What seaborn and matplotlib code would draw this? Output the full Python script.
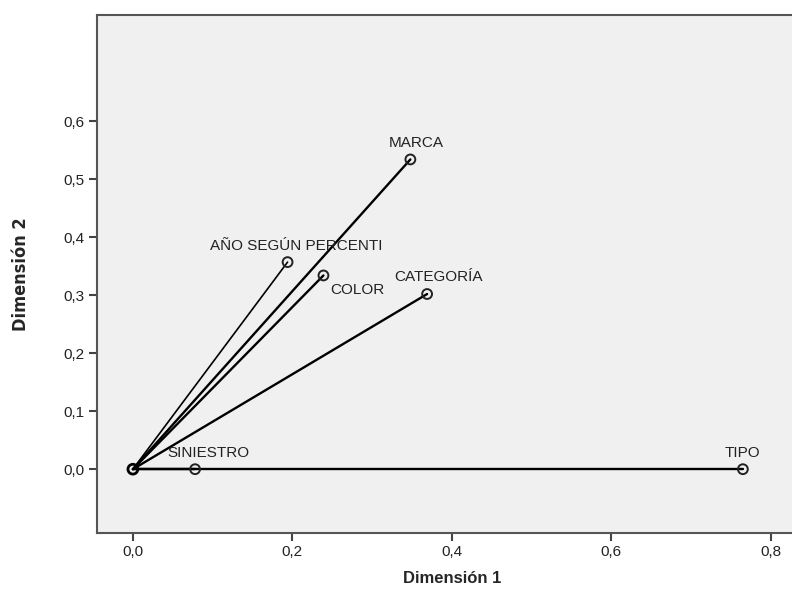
import numpy as np
import pandas as pd
import matplotlib
matplotlib.use("Agg")
import matplotlib.pyplot as plt
import seaborn as sns

# discrimination measures
variables = ["MARCA", "AÑO SEGÚN PERCENTI", "COLOR", "CATEGORÍA", "SINIESTRO", "TIPO"]
dim1 = [0.348, 0.194, 0.239, 0.369, 0.078, 0.765]
dim2 = [0.534, 0.357, 0.334, 0.302, 0.000, 0.000]

xticks = [0.0, 0.2, 0.4, 0.6, 0.8]
yticks = [0.0, 0.1, 0.2, 0.3, 0.4, 0.5, 0.6]

sns.set_style("white")
plt.rcParams["font.family"] = ["Liberation Sans", "DejaVu Sans"]

pts = pd.DataFrame({"var": variables, "d1": dim1, "d2": dim2})
# one segment from the origin per variable
seg = pd.DataFrame({
    "var": np.repeat(variables, 2),
    "d1": np.ravel([[0.0, v] for v in dim1]),
    "d2": np.ravel([[0.0, v] for v in dim2]),
})

fig = plt.figure(figsize=(7.92, 5.95), dpi=100)
ax = fig.add_axes([97 / 792, 1 - 533 / 595, 1.02 - 97 / 792, (533 - 15) / 595])
ax.set_facecolor("#f0f0f0")

lw = {v: 1.7 for v in variables}
lw["AÑO SEGÚN PERCENTI"] = 1.2
for v in variables:
    sns.lineplot(data=seg[seg["var"] == v], x="d1", y="d2", sort=False,
                 estimator=None, color="black", lw=lw[v], ax=ax)

sns.scatterplot(data=pts, x="d1", y="d2", marker="o", s=50,
                facecolor="none", edgecolor="#222222", linewidth=1.4, ax=ax, zorder=3)
ax.scatter([0], [0], s=50, facecolor="none", edgecolor="black", linewidth=2.0, zorder=3)

# label offsets in pixels (dx, dy, ha)
offs = {
    "MARCA": (6, 16, "center"),
    "AÑO SEGÚN PERCENTI": (9, 16, "center"),
    "COLOR": (7, -15, "left"),
    "CATEGORÍA": (11, 17, "center"),
    "SINIESTRO": (-28, 16, "left"),
    "TIPO": (0, 16, "center"),
}
for v, x, y in zip(variables, dim1, dim2):
    dx, dy, ha = offs[v]
    ax.annotate(v, (x, y), xytext=(dx, dy), textcoords="offset pixels",
                ha=ha, va="center", fontsize=11, color="#222222")

ax.set_xlim(-0.045, 0.829 + 0.02 * 0.874)
ax.set_ylim(-0.110, 0.783)
ax.set_xticks(xticks)
ax.set_yticks(yticks)
ax.set_xticklabels([f"{t:.1f}".replace(".", ",") for t in xticks], fontsize=11, color="#222222")
ax.set_yticklabels([f"{t:.1f}".replace(".", ",") for t in yticks], fontsize=11, color="#222222")
ax.tick_params(bottom=True, left=True, direction="out", length=6, width=1.5,
               color="#444444", pad=3)

for s in ax.spines.values():
    s.set_color("#555555")
    s.set_linewidth(1.5)
    s.set_visible(True)

ax.set_xlabel("Dimensión 1", fontsize=12, fontweight="bold", labelpad=8)
ax.set_ylabel("Dimensión 2", fontsize=13, fontweight="bold", labelpad=24,
              family="DejaVu Sans", fontstretch="condensed")

fig.savefig("out.png", dpi=100)
